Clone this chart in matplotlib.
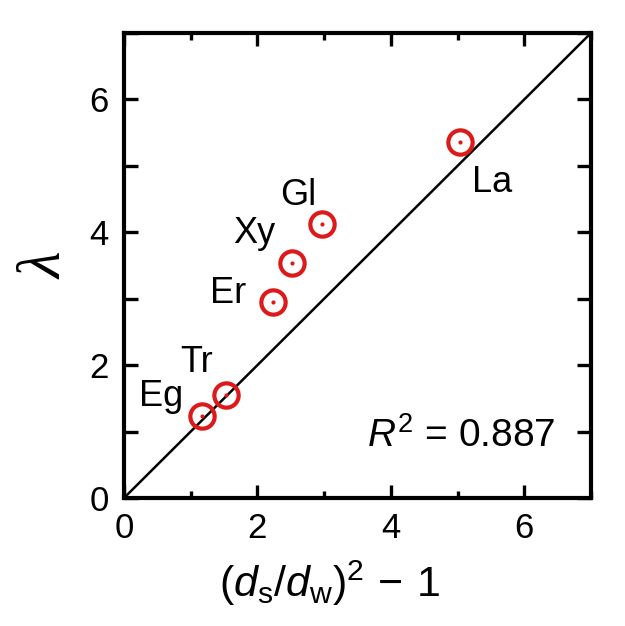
import numpy as np
import matplotlib
matplotlib.use('Agg')
import matplotlib.pyplot as plt
from matplotlib.ticker import MultipleLocator

plt.rcParams['font.family'] = ['Liberation Sans', 'DejaVu Sans']
plt.rcParams['mathtext.fontset'] = 'custom'
plt.rcParams['mathtext.rm'] = 'Liberation Sans'
plt.rcParams['mathtext.it'] = 'Liberation Sans:italic'

# data
names = ['Eg', 'Tr', 'Er', 'Xy', 'Gl', 'La']
x_vals = [1.17, 1.53, 2.23, 2.52, 2.97, 5.03]
lam_vals = [1.23, 1.55, 2.95, 3.54, 4.12, 5.36]
r2 = 0.887

# where each name sits relative to its point (data units)
label_offsets = [(-0.62, 0.15), (-0.44, 0.35), (-0.67, -0.01), (-0.57, 0.30),
                 (-0.36, 0.29), (0.49, -0.75)]

red = '#dd1a1a'

fig = plt.figure(figsize=(6.25, 6.26), dpi=100)
ax = fig.add_axes([0.1984, 0.2045, 0.7472, 0.7428])

# 1:1 line
ax.plot([0, 7], [0, 7], color='black', lw=1.8, zorder=1)

ax.plot(x_vals, lam_vals, 'o', ms=17.5, mfc='none', mec=red, mew=3, zorder=3)
ax.plot(x_vals, lam_vals, 'o', ms=3, color=red, mew=0, zorder=3)

for name, xv, yv, (dx, dy) in zip(names, x_vals, lam_vals, label_offsets):
    ax.text(xv + dx, yv + dy, name, fontsize=26, ha='center', va='baseline')

ax.text(6.46, 0.77, '$\\mathit{R}^2$ = %.3f' % r2, fontsize=28, ha='right', va='baseline')

ax.set_xlim(0, 7)
ax.set_ylim(0, 7)
ax.xaxis.set_major_locator(MultipleLocator(2))
ax.xaxis.set_minor_locator(MultipleLocator(1))
ax.yaxis.set_major_locator(MultipleLocator(2))
ax.yaxis.set_minor_locator(MultipleLocator(1))

ax.tick_params(axis='both', which='both', direction='in', top=True, right=True, labelsize=25)
ax.tick_params(axis='x', which='major', length=9.5, width=2.4, pad=10)
ax.tick_params(axis='x', which='minor', length=5, width=2.4)
ax.tick_params(axis='y', which='major', length=10, width=2.4, pad=11)
ax.tick_params(axis='y', which='minor', length=10, width=2.4)
for sp in ax.spines.values():
    sp.set_linewidth(3)

ax.set_xlabel('$(\\mathit{d}_\\mathrm{s}/\\mathit{d}_\\mathrm{w})^2\\,-\\,1$', fontsize=31)
ax.xaxis.set_label_coords(0.44, -0.13, transform=ax.transAxes)
ax.set_ylabel('λ', fontsize=44, family=['Liberation Serif', 'DejaVu Serif'], style='italic')
ax.yaxis.set_label_coords(-0.107, 0.5, transform=ax.transAxes)

fig.savefig('out.png', dpi=100)
